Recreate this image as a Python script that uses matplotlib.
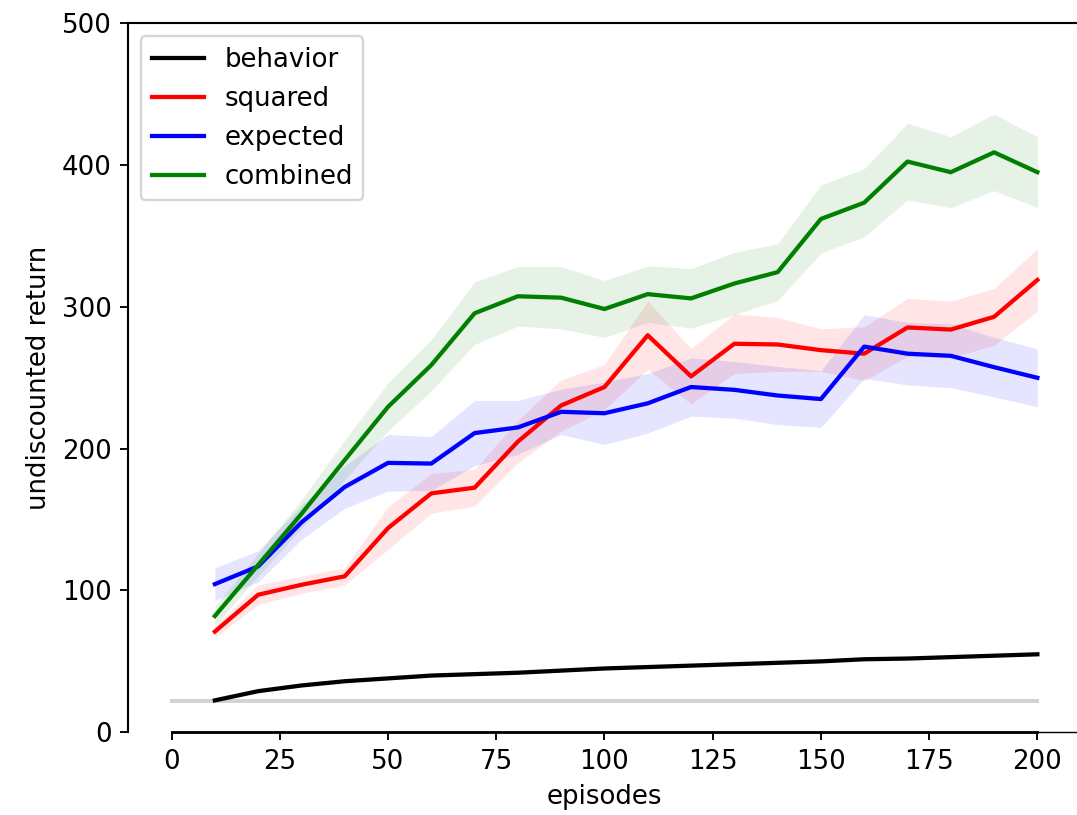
import matplotlib
matplotlib.use("Agg")
import matplotlib.pyplot as plt
import numpy as np

# episodes at which the policies were evaluated
episodes = np.arange(10, 201, 10)

# mean undiscounted return per method
behavior = [22.5, 29, 33, 36, 38, 40, 41, 42, 43.5, 45,
            46, 47, 48, 49, 50, 51.5, 52, 53, 54, 55]
squared = [71, 97, 104, 110, 144, 168.5, 172.5, 205, 230.5, 243.5,
           280, 251, 274, 273.5, 269.5, 267, 285.5, 284, 293, 319]
expected = [104.5, 117, 148, 173, 190, 189.5, 211, 215, 226, 225,
            232, 243.5, 241.5, 237.5, 235, 272, 267, 265.5, 257.5, 250]
combined = [82, 118, 154, 192, 229.5, 259, 295.5, 307.5, 306.5, 298.5,
            309, 306, 316.5, 324.5, 362, 373.5, 402.5, 395, 409, 395]

# half width of the shaded bands
squared_err = [4, 7, 6, 6, 15, 14, 13, 15, 18, 16,
               24, 19.5, 21, 19, 15, 19, 20.5, 20, 20, 22]
expected_err = [11.5, 11, 12, 15, 20, 19, 23, 19, 16, 22,
                21, 20.5, 20, 20.5, 20, 22.5, 22, 22.5, 21, 20.5]
combined_err = [7, 8, 10, 14, 17, 18, 22, 21, 22, 20,
                20, 21, 22, 20, 24, 24, 27, 25, 27, 25]

baseline = 22  # random policy level
baseline_x = [0, 200]

series = [
    ("behavior", behavior, None, "k"),
    ("squared", squared, squared_err, "r"),
    ("expected", expected, expected_err, "b"),
    ("combined", combined, combined_err, "g"),
]

plt.rcParams["font.family"] = "DejaVu Sans"
plt.rcParams["font.size"] = 11

fig = plt.figure(figsize=(1077 / 170, 815 / 170), dpi=170)
ax = fig.add_axes([0.1191, 0.1015, 0.8843, 0.8699])

ax.plot(baseline_x, [baseline, baseline], color="lightgray", lw=1.7)

for name, mean, err, col in series:
    mean = np.asarray(mean, dtype=float)
    ax.plot(episodes, mean, color=col, lw=1.8, label=name)
    if err is not None:
        err = np.asarray(err, dtype=float)
        ax.fill_between(episodes, mean - err, mean + err, color=col,
                        alpha=0.1, lw=0)

ax.set_xlim(-10, 210)
ax.set_ylim(0, 500)
ax.set_xticks(np.arange(0, 201, 25))
ax.set_yticks(np.arange(0, 501, 100))
ax.spines["left"].set_linewidth(0.9)
ax.spines["top"].set_linewidth(0.9)
ax.spines["bottom"].set_bounds(0, 200)
ax.spines["bottom"].set_linewidth(1.2)
# thin continuation of the bottom axis past the last tick
ax.plot([200, 210], [0, 0], color="k", lw=0.6, clip_on=False)

ax.set_xlabel("episodes")
ax.set_ylabel("undiscounted return")
ax.legend(loc="upper left")

fig.savefig("out.png", dpi=170)
